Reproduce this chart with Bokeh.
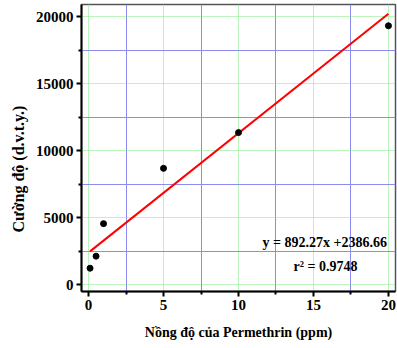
from bokeh.plotting import figure
from bokeh.models import Range1d, FixedTicker, Label, Title
from bokeh.embed import file_html
from bokeh.resources import INLINE

# Permethrin calibration data
concentration_ppm = [0.1, 0.5, 1, 5, 10, 20]
intensity = [1220, 2120, 4550, 8680, 11350, 19330]

# Linear fit results
slope = 892.27
intercept = 2386.66
r_squared = 0.9748
fit_x = [0.1, 20]

x_ticks = [0, 5, 10, 15, 20]
x_minor = [2.5, 7.5, 12.5, 17.5]
y_ticks = [0, 5000, 10000, 15000, 20000]
y_minor = [2500, 7500, 12500, 17500]

FONT = "Liberation Serif"

p = figure(width=397, height=348, output_backend="svg", toolbar_location=None,
           x_range=Range1d(-0.47, 20.47), y_range=Range1d(-520, 20920),
           min_border_left=81, min_border_right=2, min_border_top=4,
           min_border_bottom=57)
p.background_fill_color = "white"
p.border_fill_color = "white"
p.outline_line_color = "#555555"
p.outline_line_width = 1.5

# grids: green dotted at major ticks, blue at minor ticks
for g in (p.xgrid, p.ygrid):
    g.grid_line_color = "#7be87b"
    g.grid_line_dash = "1 1"
    g.grid_line_width = 1
    g.minor_grid_line_color = "#8c8cf0"
    g.minor_grid_line_width = 1

p.xaxis.ticker = FixedTicker(ticks=x_ticks, minor_ticks=x_minor)
p.yaxis.ticker = FixedTicker(ticks=y_ticks, minor_ticks=y_minor)

for ax in (p.xaxis, p.yaxis):
    ax.axis_line_color = "black"
    ax.axis_line_width = 2
    ax.major_tick_line_color = "black"
    ax.major_tick_line_width = 2
    ax.major_tick_out = 5
    ax.major_tick_in = 0
    ax.minor_tick_line_color = "black"
    ax.minor_tick_line_width = 2
    ax.minor_tick_out = 3
    ax.minor_tick_in = 0
    ax.major_label_text_font = FONT
    ax.major_label_text_font_style = "bold"
    ax.major_label_text_font_size = "15px"
    ax.major_label_text_color = "black"
    ax.major_label_standoff = 3
    ax.axis_label_text_font = FONT
    ax.axis_label_text_font_style = "bold"
    ax.axis_label_text_font_size = "14px"
    ax.axis_label_text_color = "black"

p.xaxis.axis_label = "Nồng độ của Permethrin (ppm)"
p.xaxis.axis_label_standoff = 12

# y title sits in the left panel, anchored from the bottom of the frame
y_title = Title(text="Cường độ (d.v.t.y.)", align="left", offset=59,
                text_font=FONT, text_font_style="bold", text_font_size="16px",
                text_color="black", standoff=12)
p.add_layout(y_title, "left")

fit_y = [slope * x + intercept for x in fit_x]
p.line(fit_x, fit_y, line_color="red", line_width=2)
p.scatter(concentration_ppm, intensity, size=6, fill_color="black", line_color="black")

eq = Label(x=15.75, y=3170, text=f"y = {slope:.2f}x +{intercept:.2f}",
           text_font=FONT, text_font_style="bold", text_font_size="14px",
           text_align="center", text_baseline="middle", text_color="black")
r2 = Label(x=15.8, y=1370, text=f"r² = {r_squared:.4f}",
           text_font=FONT, text_font_style="bold", text_font_size="14px",
           text_align="center", text_baseline="middle", text_color="black")
p.add_layout(eq)
p.add_layout(r2)

open("out.html", "w").write(file_html(p, INLINE))
